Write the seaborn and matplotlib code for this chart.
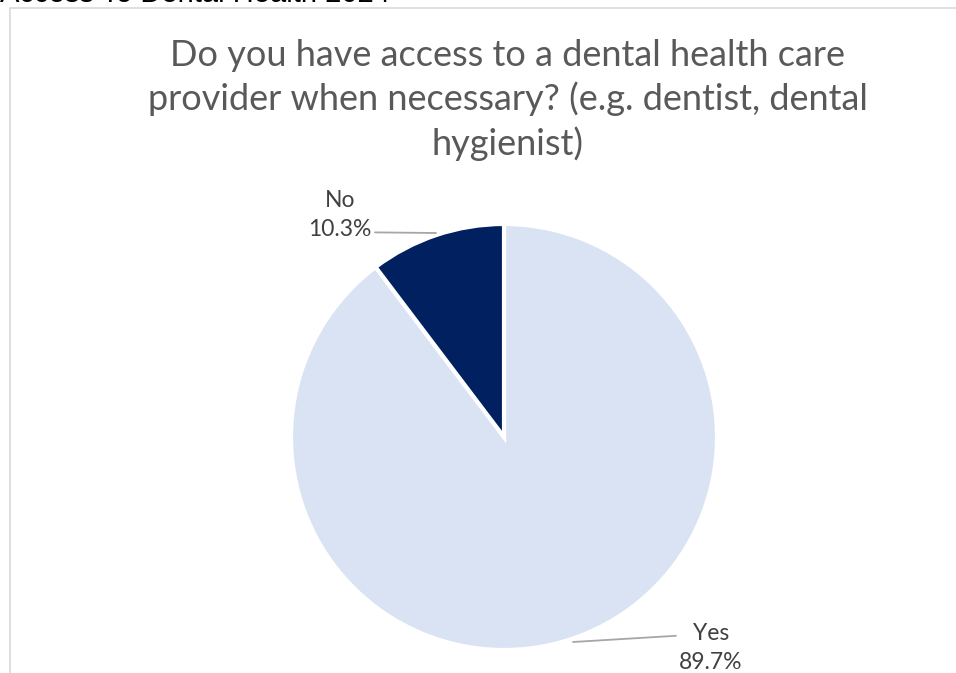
import matplotlib
matplotlib.use("Agg")
import matplotlib.pyplot as plt
import seaborn as sns
from matplotlib.patches import Rectangle

categories = ["Yes", "No"]
shares = [89.7, 10.3]
colors = ["#DAE3F3", "#002060"]
title = "Do you have access to a dental health care\nprovider when necessary? (e.g. dentist, dental\nhygienist)"
sheet_title = "Access To Dental Health 2024"

sns.set_theme(style="white")
plt.rcParams["font.family"] = ["Lato", "DejaVu Sans"]

W, H = 956, 673
fig = plt.figure(figsize=(W / 100, H / 100), dpi=100)

# chart frame (cut off on right and bottom like the screenshot)
fig.patches.append(Rectangle((10 / W, -0.1), 1.2, 1 - 8 / H + 0.1, transform=fig.transFigure,
                             fill=False, edgecolor="#D9D9D9", linewidth=1.2))

# sheet title clipped at the top
fig.text(0, 1 - 2.5 / H, sheet_title, ha="left", va="baseline", fontsize=21,
         color="black", family="Liberation Sans")

fig.text(508 / W, 1 - 100 / H, title, ha="center", va="center", fontsize=26,
         color="#595959", linespacing=1.36)

# pie axis: center (504, 437), radius 213
r = 213
ax = fig.add_axes([(504 - r) / W, (H - 437 - r) / H, 2 * r / W, 2 * r / H])
wedges, _ = ax.pie(shares, colors=colors, startangle=90, counterclock=False,
                   wedgeprops=dict(edgecolor="white", linewidth=3))
ax.set_xlim(-1, 1)
ax.set_ylim(-1, 1)
ax.set_aspect("equal")
ax.axis("off")

def px(x, y):
    return ((x - 504) / r, (437 - y) / r)

# No label
ax.annotate(f"{categories[1]}\n{shares[1]}%", xy=px(436, 233), xytext=px(340, 215),
            ha="center", va="center", fontsize=16.5, color="#404040", linespacing=1.45,
            annotation_clip=False,
            arrowprops=dict(arrowstyle="-", color="#A6A6A6", lw=1.3, shrinkA=0, shrinkB=0,
                            relpos=(1.03, 0.15)))
# Yes label
ax.annotate(f"{categories[0]}\n{shares[0]}%", xy=px(573, 642), xytext=px(711, 648),
            ha="center", va="center", fontsize=16.5, color="#404040", linespacing=1.45,
            annotation_clip=False,
            arrowprops=dict(arrowstyle="-", color="#A6A6A6", lw=1.3, shrinkA=0, shrinkB=0,
                            relpos=(0.0, 0.75)))

fig.savefig("out.png", dpi=100)
